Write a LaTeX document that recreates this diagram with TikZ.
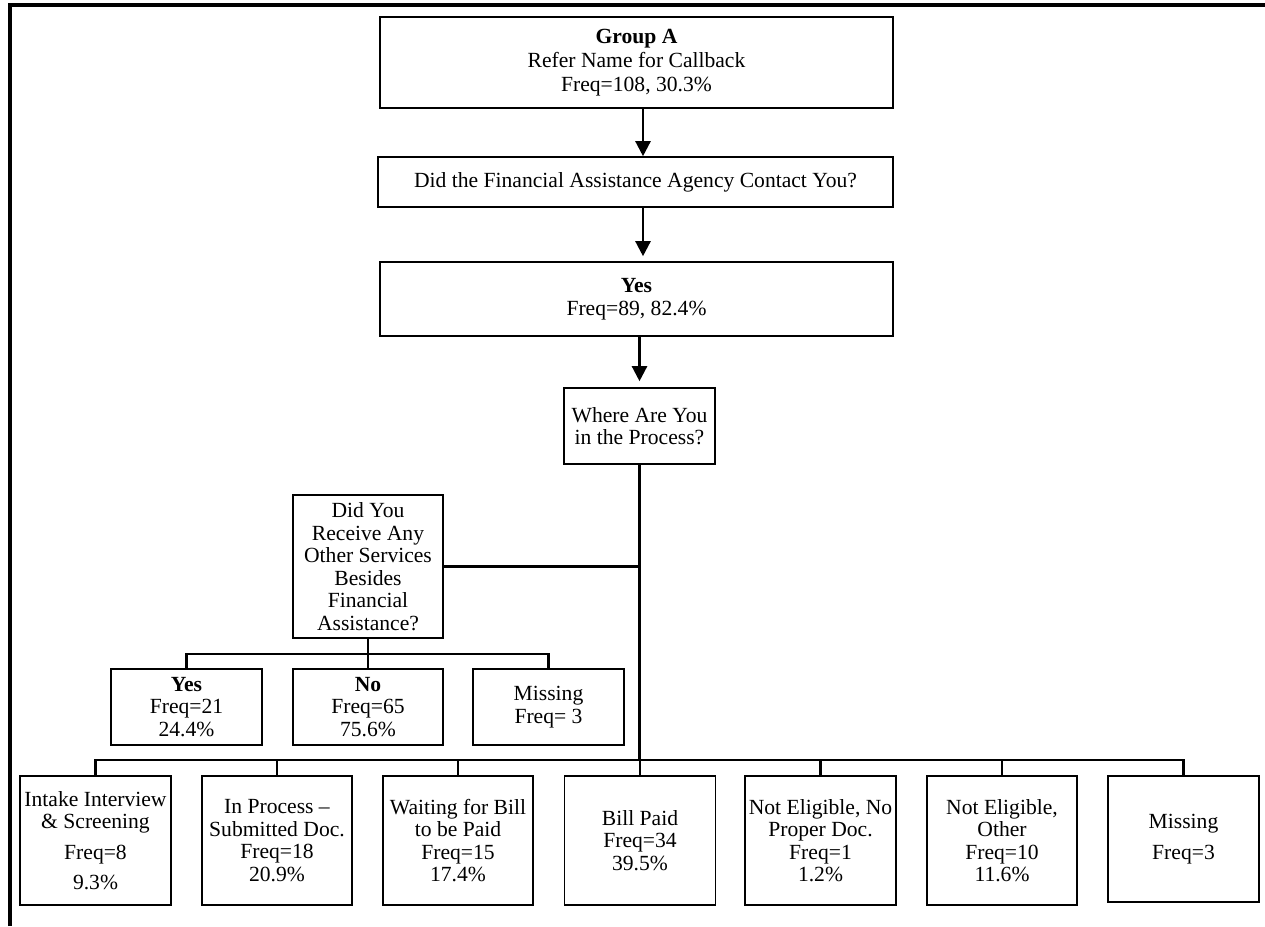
\documentclass[tikz,border=0pt]{standalone}
\usepackage{fontspec}
\setmainfont{Liberation Serif}
\usetikzlibrary{arrows.meta}
\begin{document}
\begin{tikzpicture}[x=1pt,y=-1pt,
  box/.style={draw, line width=1.6pt, inner sep=0pt, align=center,
    font=\fontsize{21.6}{22.5}\selectfont},
  arr/.style={line width=2.4pt, -{Triangle[width=15pt,length=15pt]}},
  conn/.style={line width=2.1pt},
  trunk/.style={line width=2.8pt},
  frame/.style={line width=4pt}]
\useasboundingbox (0,0) rectangle (1265,926);
\draw[frame] (10,926) -- (10,5) -- (1265,5);

\node[box, minimum width=513pt, minimum height=91pt, font=\fontsize{21.6}{24}\selectfont] (b1) at (636.5,62.5)
  {\textbf{Group A}\\Refer Name for Callback\\Freq=108, 30.3\%};
\node[box, minimum width=515pt, minimum height=50pt] (b2) at (635.5,182)
  {Did the Financial Assistance Agency Contact You?};
\node[box, minimum width=513pt, minimum height=74pt] (b3) at (636.5,299)
  {\textbf{Yes}\\Freq=89, 82.4\%};
\node[box, minimum width=151pt, minimum height=76pt] (w) at (639.5,426)
  {Where Are You\\in the Process?};
\node[box, minimum width=150pt, minimum height=143pt] (d) at (368,566.5)
  {Did You\\Receive Any\\Other Services\\Besides\\Financial\\Assistance?};

\node[box, minimum width=151pt, minimum height=76pt] (sy) at (186.5,707)
  {\textbf{Yes}\\Freq=21\\24.4\%};
\node[box, minimum width=150pt, minimum height=76pt] (sn) at (368,707)
  {\textbf{No}\\Freq=65\\75.6\%};
\node[box, minimum width=151pt, minimum height=76pt] (sm) at (548.5,707)
  {Missing\\Freq= 3};

\node[box, minimum width=151pt, minimum height=129pt] (c1) at (95.5,840.5)
  {Intake Interview\\\& Screening\\[8pt]Freq=8\\[8pt]9.3\%};
\node[box, minimum width=150pt, minimum height=129pt] (c2) at (277,840.5)
  {In Process –\\Submitted Doc.\\Freq=18\\20.9\%};
\node[box, minimum width=150pt, minimum height=129pt] (c3) at (458,840.5)
  {Waiting for Bill\\to be Paid\\Freq=15\\17.4\%};
\node[box, minimum width=151pt, minimum height=129pt] (c4) at (640,840.5)
  {Bill Paid\\Freq=34\\39.5\%};
\node[box, minimum width=151pt, minimum height=129pt] (c5) at (820.5,840.5)
  {Not Eligible, No\\Proper Doc.\\Freq=1\\1.2\%};
\node[box, minimum width=150pt, minimum height=129pt] (c6) at (1002,840.5)
  {Not Eligible,\\Other\\Freq=10\\11.6\%};
\node[box, minimum width=151pt, minimum height=126pt] (c7) at (1183.5,839)
  {Missing\\[8pt]Freq=3};

\coordinate (ax) at (643,0);
\coordinate (bus) at (0,760);
\coordinate (sbus) at (0,654);

\draw[arr] (b1.south -| ax) -- (b2.north -| ax);
\draw[arr, shorten >=5pt] (b2.south -| ax) -- (b3.north -| ax);
\draw[arr, shorten >=6pt] (b3.south -| w.north) -- (w.north);

\draw[trunk] (w.south) -- (w.south |- bus);
\draw[conn] (d.east) -- (d.east -| w.south);

\draw[conn] (d.south) -- (sn.north);
\draw[conn] (sy.north) -- (sy.north |- sbus) -- (sm.north |- sbus) -- (sm.north);

\draw[conn] (c1.north) -- (c1.north |- bus) -- (c7.north |- bus) -- (c7.north);
\foreach \n in {c2,c3,c4,c5,c6} \draw[conn] (\n.north) -- (\n.north |- bus);
\end{tikzpicture}
\end{document}
